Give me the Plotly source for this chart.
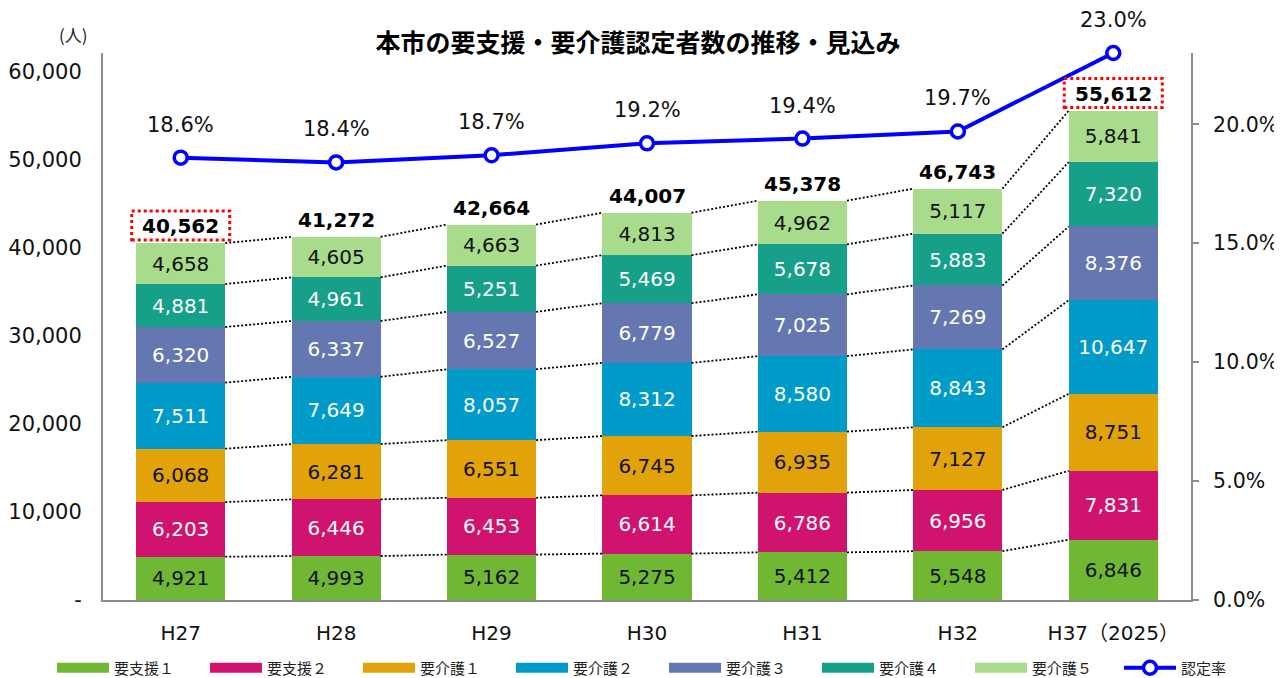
import plotly.graph_objects as go

# ---------------- data ----------------
categories = ["H27", "H28", "H29", "H30", "H31", "H32", "H37（2025）"]
series_names = ["要支援１", "要支援２", "要介護１", "要介護２", "要介護３", "要介護４", "要介護５"]
shien1 = [4921, 4993, 5162, 5275, 5412, 5548, 6846]
shien2 = [6203, 6446, 6453, 6614, 6786, 6956, 7831]
kaigo1 = [6068, 6281, 6551, 6745, 6935, 7127, 8751]
kaigo2 = [7511, 7649, 8057, 8312, 8580, 8843, 10647]
kaigo3 = [6320, 6337, 6527, 6779, 7025, 7269, 8376]
kaigo4 = [4881, 4961, 5251, 5469, 5678, 5883, 7320]
kaigo5 = [4658, 4605, 4663, 4813, 4962, 5117, 5841]
totals = [40562, 41272, 42664, 44007, 45378, 46743, 55612]
rate = [0.186, 0.184, 0.187, 0.192, 0.194, 0.197, 0.230]
rate_name = "認定率"
left_ticks = [0, 10000, 20000, 30000, 40000, 50000, 60000]
right_ticks = [0.0, 0.05, 0.10, 0.15, 0.20]
highlight = [0, 6]

# ---------------- styles ----------------
series_values = [shien1, shien2, kaigo1, kaigo2, kaigo3, kaigo4, kaigo5]
colors = ["#70B834", "#D0136E", "#E2A20A", "#009BC8", "#6577B0", "#16A08A", "#A8DC8C"]
text_colors = ["#111111", "#FFFFFF", "#111111", "#FFFFFF", "#FFFFFF", "#FFFFFF", "#111111"]
NUMFONT = "DejaVu Sans, Verdana, Noto Sans CJK JP"
JPFONT = "Noto Sans CJK JP, DejaVu Sans"
AXIS_GRAY = "#8C8C8C"
BAR_W = 0.573
# page body has an 8px margin; the figure is sized to fit inside the window
FIG_W, FIG_H = 1274, 670

xs = list(range(len(categories)))
fig = go.Figure()

for name, vals, c, tc in zip(series_names, series_values, colors, text_colors):
    fig.add_trace(go.Bar(
        x=xs, y=vals, name=name, width=BAR_W,
        marker=dict(color=c, line=dict(width=0)),
        text=[f"{v:,}" for v in vals], textposition="inside",
        insidetextanchor="middle", constraintext="none", textangle=0,
        insidetextfont=dict(family=NUMFONT, size=20, color=tc),
        showlegend=False, hoverinfo="skip",
    ))

# dotted connectors between segment boundaries of neighbouring bars
cum = []
run = [0] * len(xs)
for vals in series_values:
    run = [a + b for a, b in zip(run, vals)]
    cum.append(run)
cx, cy = [], []
for level in cum:
    for i in range(len(xs) - 1):
        cx += [xs[i] + BAR_W / 2, xs[i + 1] - BAR_W / 2, None]
        cy += [level[i], level[i + 1], None]
fig.add_trace(go.Scatter(x=cx, y=cy, mode="lines",
                         line=dict(color="#000000", width=1.8, dash="2px,2px"),
                         showlegend=False, hoverinfo="skip"))

# legend proxies (wide swatches)
for name, c in zip(series_names, colors):
    fig.add_trace(go.Scatter(x=[None], y=[None], mode="lines", name=name,
                             line=dict(color=c, width=10)))

# rate line
fig.add_trace(go.Scatter(
    x=xs, y=rate, yaxis="y2", name=rate_name, mode="lines+markers", legend="legend2",
    line=dict(color="#0000FF", width=4),
    marker=dict(symbol="circle", size=13, color="#FFFFFF", line=dict(color="#0000FF", width=3.5)),
    cliponaxis=False, hoverinfo="skip",
))

annotations = []
for i, t in enumerate(totals):
    annotations.append(dict(x=xs[i], y=t, xref="x", yref="y", text=f"<b>{t:,}</b>",
                            showarrow=False, yanchor="bottom", yshift=3,
                            font=dict(family=NUMFONT, size=20, color="#000000")))
for i, r in enumerate(rate):
    annotations.append(dict(x=xs[i], y=r, xref="x", yref="y2", text=f"{r*100:.1f}%",
                            showarrow=False, yanchor="middle", yshift=33,
                            font=dict(family=NUMFONT, size=21, color="#111111")))
annotations.append(dict(x=-0.027, y=1.033, xref="paper", yref="paper", text="(人)",
                        showarrow=False, xanchor="center", yanchor="middle",
                        font=dict(family=JPFONT, size=17, color="#222222")))

shapes = []
for i in highlight:
    shapes.append(dict(type="rect", xref="x", yref="y", xsizemode="pixel", ysizemode="pixel",
                       xanchor=xs[i], yanchor=totals[i], x0=-49, x1=49, y0=3, y1=32,
                       line=dict(color="#FF0000", width=3, dash="dot"),
                       fillcolor="rgba(0,0,0,0)"))

legend_common = dict(orientation="h", xref="container", yref="paper",
                     y=-0.1243, xanchor="left", yanchor="middle",
                     entrywidth=86, entrywidthmode="pixels", itemwidth=52,
                     traceorder="normal", bgcolor="rgba(0,0,0,0)",
                     font=dict(family=JPFONT, size=15, color="#222222"))

fig.update_layout(
    width=FIG_W, height=FIG_H,
    margin=dict(l=95, r=91, t=45, b=78, autoexpand=False),
    paper_bgcolor="#FFFFFF", plot_bgcolor="#FFFFFF",
    barmode="stack",
    title=dict(text="<b>本市の要支援・要介護認定者数の推移・見込み</b>",
               x=630 / FIG_W, xanchor="center", y=1 - 35 / FIG_H, yanchor="middle",
               font=dict(family=JPFONT, size=25, color="#000000")),
    xaxis=dict(range=[-0.5, 6.5], tickmode="array", tickvals=xs, ticktext=categories,
               showline=True, linecolor=AXIS_GRAY, linewidth=2, ticks="",
               ticklabelstandoff=14, showgrid=False, zeroline=False, automargin=False,
               tickfont=dict(family=NUMFONT, size=20, color="#111111")),
    yaxis=dict(range=[0, 62160], tickmode="array", tickvals=left_ticks,
               ticktext=["-" if v == 0 else f"{v:,}" for v in left_ticks],
               showline=True, linecolor=AXIS_GRAY, linewidth=2, ticks="",
               ticklabelstandoff=15, showgrid=False, zeroline=False, automargin=False,
               tickfont=dict(family=NUMFONT, size=21, color="#111111")),
    yaxis2=dict(range=[0, 0.23], overlaying="y", side="right", tickmode="array",
                tickvals=right_ticks, ticktext=[f"{v*100:.1f}%" for v in right_ticks],
                showline=True, linecolor=AXIS_GRAY, linewidth=2,
                ticks="outside", ticklen=6, tickwidth=2, tickcolor=AXIS_GRAY,
                ticklabelstandoff=10, showgrid=False, zeroline=False, automargin=False,
                tickfont=dict(family=NUMFONT, size=20.5, color="#111111")),
    legend=dict(x=44 / FIG_W, **legend_common),
    legend2=dict(x=1111 / FIG_W, **legend_common),
    annotations=annotations,
    shapes=shapes,
    hovermode=False,
)

fig.write_html("out.html")
